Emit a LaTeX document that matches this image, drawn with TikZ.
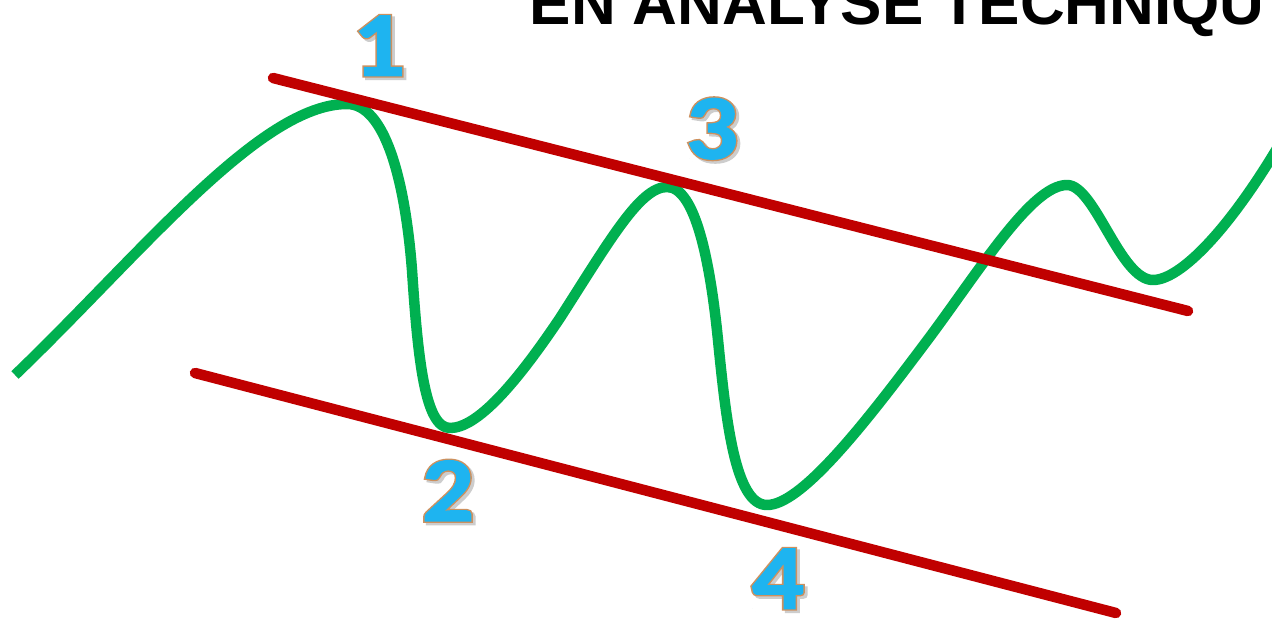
\documentclass[tikz,border=0pt]{standalone}
\usepackage{fontspec}
\usepackage{graphicx}
\newfontfamily\titlefont{Liberation Sans}
\newfontfamily\digitfont{Carlito}
\newfontfamily\digitedgefont{Carlito}[FakeBold=4.5]
\newfontfamily\digitfacefont{Carlito}[FakeBold=1.5]
\definecolor{curvegreen}{RGB}{0,176,80}
\definecolor{linered}{RGB}{192,0,0}
\definecolor{digitblue}{RGB}{30,180,240}
\definecolor{digitedge}{RGB}{205,145,95}
\definecolor{digitshadow}{RGB}{205,205,205}
\newcommand\outdigit[1]{\leavevmode\scalebox{1.12}[1]{%
 \rlap{\kern2.5pt\raisebox{-2.5pt}{\digitedgefont\bfseries\color{digitshadow}#1}}%
 \rlap{\digitedgefont\bfseries\color{digitedge}#1}%
 {\digitfacefont\bfseries\color{digitblue}#1}}}
\begin{document}
\begin{tikzpicture}[x=1pt,y=-1pt,
  greencurve/.style={draw=curvegreen,line width=10.5pt,line join=round},
  redline/.style={draw=linered,line width=10.5pt,line cap=round},
  digitlabel/.style={inner sep=0pt,font=\fontsize{92}{92}\selectfont},
  titlelabel/.style={anchor=base west,inner sep=0pt,font=\titlefont\bfseries\fontsize{62}{62}\selectfont}]
\useasboundingbox (0,0) rectangle (1272,623);
\clip (0,0) rectangle (1272,623);
\fill[white] (0,0) rectangle (1272,623);
\node[titlelabel] (title) at (529.5,25) {EN ANALYSE TECHNIQU};
% green price curve
\coordinate (start) at (15,375);
\coordinate (p1) at (347,104);
\coordinate (t2) at (450,428);
\coordinate (p3) at (667,187);
\coordinate (t4) at (767,505);
\coordinate (p5) at (1067,185);
\coordinate (t6) at (1153,280);
\coordinate (finish) at (1285,135);
\draw[greencurve] (start)
  .. controls (140,255) and (260,104) .. (p1)
  .. controls (385,104) and (405,180) .. (412,270)
  .. controls (418,360) and (425,428) .. (t2)
  .. controls (477,428) and (515,385) .. (560,318)
  .. controls (610,240) and (640,187) .. (p3)
  .. controls (695,187) and (710,260) .. (718,340)
  .. controls (726,420) and (735,505) .. (t4)
  .. controls (800,505) and (860,430) .. (920,350)
  .. controls (975,278) and (1030,185) .. (p5)
  .. controls (1095,185) and (1120,280) .. (t6)
  .. controls (1180,280) and (1230,230) .. (finish);
% red channel lines
\coordinate (ua) at (273,78);
\coordinate (ub) at (1188,311);
\coordinate (la) at (195,373);
\coordinate (lb) at (1116,613);
\draw[redline] (ua) -- (ub);
\draw[redline] (la) -- (lb);
% numbers
\node[digitlabel] (n1) at (379,47) {\outdigit{1}};
\node[digitlabel] (n2) at (448,492) {\outdigit{2}};
\node[digitlabel] (n3) at (712,130) {\outdigit{3}};
\node[digitlabel] (n4) at (778,580) {\outdigit{4}};
\end{tikzpicture}
\end{document}
